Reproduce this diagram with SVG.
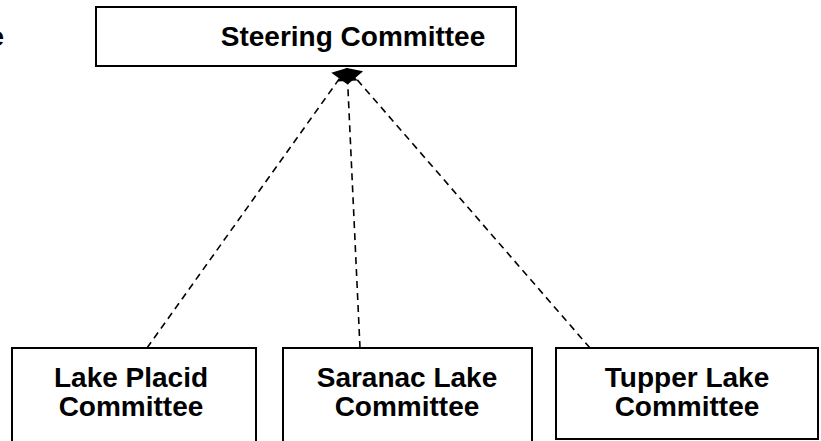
<svg xmlns="http://www.w3.org/2000/svg" width="821" height="441" viewBox="0 0 821 441">
<style>
.box{fill:#fff;stroke:#000;stroke-width:2}
.lbl{font-family:"Liberation Sans",Arial,sans-serif;font-weight:bold;font-size:28px;fill:#000;text-anchor:middle}
.conn{fill:none;stroke:#000;stroke-width:1.6;stroke-dasharray:7,5}
</style>
<defs>
<marker id="arr" markerUnits="userSpaceOnUse" markerWidth="24" markerHeight="24" viewBox="-18 -12 24 24" refX="0" refY="0" orient="auto">
<path d="M0,0 L-13,-10 L-13,10 Z" fill="#000"/>
</marker>
</defs>
<rect width="821" height="441" fill="#fff"/>
<text class="lbl" x="4" y="46" style="text-anchor:end">e</text>
<g id="steering">
<rect class="box" x="96" y="7" width="420" height="59"/>
<text class="lbl" x="353" y="46">Steering Committee</text>
</g>
<g id="connectors">
<line class="conn" x1="147" y1="348" x2="347" y2="68" marker-end="url(#arr)"/>
<line class="conn" x1="360" y1="348" x2="347" y2="68" marker-end="url(#arr)"/>
<line class="conn" x1="590" y1="348" x2="347" y2="68" marker-end="url(#arr)"/>
</g>
<g id="lakeplacid">
<rect class="box" x="12" y="348" width="244" height="110"/>
<text class="lbl" x="131" y="387">Lake Placid</text>
<text class="lbl" x="131" y="416">Committee</text>
</g>
<g id="saranac">
<rect class="box" x="283" y="348" width="249" height="110"/>
<text class="lbl" x="407" y="387">Saranac Lake</text>
<text class="lbl" x="407" y="416">Committee</text>
</g>
<g id="tupper">
<rect class="box" x="556" y="348" width="262" height="91"/>
<text class="lbl" x="687" y="387">Tupper Lake</text>
<text class="lbl" x="687" y="416">Committee</text>
</g>
</svg>
